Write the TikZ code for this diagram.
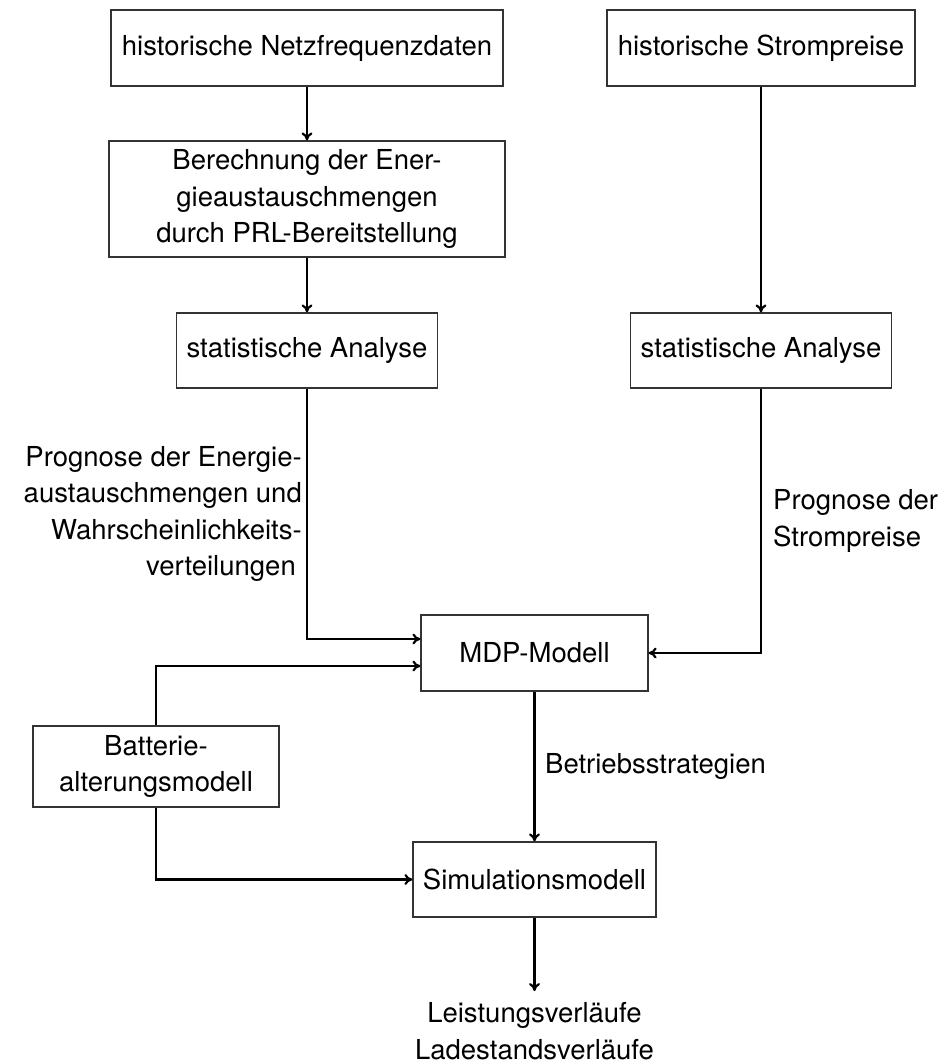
\documentclass[tikz,border=0pt]{standalone}
\usepackage{fontspec}
\setmainfont{TeX Gyre Heros}
\usetikzlibrary{arrows.meta,calc}
\begin{document}
\begin{tikzpicture}[x=1pt,y=-1pt,
  box/.style={draw=black!80, line width=1.2pt, inner sep=0pt, align=center, font=\fontsize{27.5}{36.5}\selectfont},
  lbl/.style={inner sep=0pt, font=\fontsize{27.5}{36.5}\selectfont},
  conn/.style={line width=2.2pt, draw=black, -{To[length=8pt,width=11pt]}}
]
\useasboundingbox (0,0) rectangle (947,1063);

\node[box, minimum width=392pt, minimum height=76pt] (n1) at (307,48) {historische Netzfrequenzdaten};
\node[box, minimum width=396pt, minimum height=116pt] (n2) at (307,199) {Berechnung der Ener-\\gieaustauschmengen\\durch PRL-Bereitstellung};
\node[box, minimum width=261pt, minimum height=75pt] (n3) at (307,350.5) {statistische Analyse};
\node[box, minimum width=308pt, minimum height=76pt] (r1) at (761,48) {historische Strompreise};
\node[box, minimum width=261pt, minimum height=75pt] (r3) at (761,350.5) {statistische Analyse};
\node[box, minimum width=227pt, minimum height=76pt] (mdp) at (534.5,653) {MDP-Modell};
\node[box, minimum width=246pt, minimum height=81pt] (batt) at (156,766.5) {Batterie-\\alterungsmodell};
\node[box, minimum width=243pt, minimum height=75pt] (sim) at (534.5,879.5) {Simulationsmodell};

\node[lbl, anchor=east, align=right] (lp) at (302,514) {Prognose der Energie-\\austauschmengen und\hspace*{6pt}\\Wahrscheinlichkeits-\\verteilungen\hspace*{6pt}};
\node[lbl, anchor=west, align=left] (rp) at (773,521) {Prognose der\\Strompreise};
\node[lbl, anchor=west] (bs) at (545,766) {Betriebsstrategien};
\node[lbl, align=center] (out) at (534.5,1031) {Leistungsverläufe\\Ladestandsverläufe};
\coordinate (outtop) at (534.5,991);

\draw[conn] (n1.south) -- (n2.north);
\draw[conn] (n2.south) -- (n3.north);
\draw[conn] (r1.south) -- (r3.north);
\draw[conn] (n3.south) |- ($(mdp.west)+(0,-14)$);
\draw[conn] (batt.north) |- ($(mdp.west)+(0,13)$);
\draw[conn] (batt.south) |- (sim.west);
\draw[conn] (r3.south) |- (mdp.east);
\draw[conn] (mdp.south) -- (sim.north);
\draw[conn] (sim.south) -- (outtop);
\end{tikzpicture}
\end{document}
